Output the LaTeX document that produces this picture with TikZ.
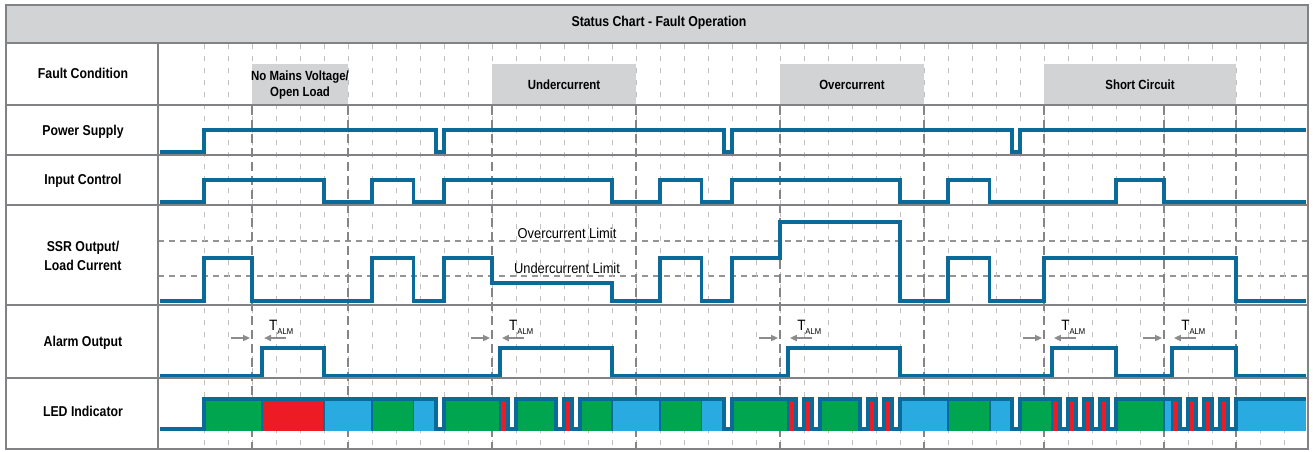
\documentclass[tikz,border=0pt]{standalone}
\usepackage{fontspec}
\setmainfont{Liberation Sans}[FakeStretch=0.86]
\newfontfamily\limfont{Liberation Sans}[FakeStretch=0.9]
\usetikzlibrary{arrows.meta}

\definecolor{sigblue}{HTML}{0A6A99}
\definecolor{ledgreen}{HTML}{00A550}
\definecolor{ledred}{HTML}{ED1C24}
\definecolor{ledblue}{HTML}{29ABE2}
\definecolor{boxgray}{HTML}{D1D3D4}
\definecolor{rulegray}{HTML}{808285}

\begin{document}
\begin{tikzpicture}[x=1pt, y=-1pt,
    sig/.style={line width=3.3pt, draw=sigblue},
    rowlabel/.style={font=\bfseries\fontsize{14.3}{19}\selectfont, align=center},
    faultlabel/.style={font=\bfseries\fontsize{13.3}{16}\selectfont, align=center},
    limitlabel/.style={font=\limfont\fontsize{14.3}{16}\selectfont},
    talmlabel/.style={font=\limfont\fontsize{15}{15}\selectfont, inner sep=0pt, anchor=base west},
    gridline/.style={draw=black!25, line width=1pt, dash pattern=on 5pt off 7pt},
    markline/.style={draw=black!48, line width=1.6pt, dash pattern=on 9pt off 5pt},
    limitline/.style={draw=black!42, line width=1.4pt, dash pattern=on 6pt off 5pt},
    talm/.style={draw=black!45, line width=2pt, -{Triangle[length=7pt, width=6pt]}},
    rule/.style={draw=rulegray, line width=1.5pt}]

\useasboundingbox (0,0) rectangle (1313,451);

% Title bar
\fill[boxgray] (6,5) rectangle (1308,43);
\node[rowlabel] (title) at (659,23) {Status Chart - Fault Operation};

% Limits of the load current
\draw[limitline] (158,241) -- (1308,241);
\draw[limitline] (158,276) -- (1308,276);

% Time axis: one step = 24px
\begin{scope}[xshift=204pt, x=24pt]
  \foreach \k in {0,...,45}
    \draw[gridline] (\k,44) -- (\k,449);

  % Fault windows
  \fill[boxgray] (2,64) rectangle (6,105);
  \fill[boxgray] (12,64) rectangle (18,105);
  \fill[boxgray] (24,64) rectangle (30,105);
  \fill[boxgray] (35,64) rectangle (43,105);
  \node[faultlabel] (nomains) at (4,85) {No Mains Voltage/\\Open Load};
  \node[faultlabel] (under) at (15,85) {Undercurrent};
  \node[faultlabel] (over) at (27,85) {Overcurrent};
  \node[faultlabel] (short) at (39,85) {Short Circuit};

  \foreach \k in {2,6,12,18,24,30,35,40,43}
    \draw[markline] (\k,106) -- (\k,449);

  % LED colours
  \foreach \a/\b/\c in {0/2.42/ledgreen, 2.42/5/ledred, 5/7/ledblue, 7/8.72/ledgreen,
      8.72/9.67/ledblue, 10/12.33/ledgreen, 12.33/12.67/ledred, 13/14.67/ledgreen,
      15/15.33/ledred, 15.67/17/ledgreen, 17/19/ledblue, 19/20.72/ledgreen,
      20.72/21.67/ledblue, 22/24.33/ledgreen, 24.33/24.67/ledred, 25/25.33/ledred,
      25.67/27.33/ledgreen, 27.67/28/ledred, 28.33/28.67/ledred, 29/31/ledblue,
      31/32.74/ledgreen, 32.74/33.67/ledblue, 34/35.33/ledgreen,
      35.33/35.67/ledred, 36/36.33/ledred, 36.67/37/ledred, 37.33/37.67/ledred,
      38/40/ledgreen, 40/40.33/ledblue,
      40.33/40.67/ledred, 41/41.33/ledred, 41.67/42/ledred, 42.33/42.67/ledred,
      43/45.92/ledblue}
    \fill[\c] (\a,399) rectangle (\b,430.5);
  \foreach \k in {2.42,5,7,8.72,12.33,17,19,20.72,24.33,31,32.74,35.33,40,40.33}
    \draw[sigblue, line width=1.5pt] (\k,399) -- (\k,430.5);

  % Power supply
  \draw[sig] (-1.83,152) -| (0,130) -| (9.67,152) -| (10,130) -| (21.67,152) -| (22,130)
    -| (33.67,152) -| (34,130) -- (45.92,130);
  % Input control
  \draw[sig] (-1.83,202) -| (0,180) -| (5,202) -| (7,180) -| (8.72,202) -| (10,180)
    -| (17,202) -| (19,180) -| (20.72,202) -| (22,180) -| (29,202) -| (31,180)
    -| (32.74,202) -| (38,180) -| (40,202) -- (45.92,202);
  % SSR output / load current
  \draw[sig] (-1.83,301) -| (0,258) -| (2,301) -| (7,258) -| (8.72,301) -| (10,258)
    -| (12,283) -| (17,301) -| (19,258) -| (20.72,301) -| (22,258) -| (24,222)
    -| (29,301) -| (31,258) -| (32.74,301) -| (35,258) -| (43,301) -- (45.92,301);
  % Alarm output
  \draw[sig] (-1.83,376) -| (2.42,348) -| (5,376) -| (12.33,348) -| (17,376)
    -| (24.33,348) -| (29,376) -| (35.33,348) -| (38,376) -| (40.33,348)
    -| (43,376) -- (45.92,376);
  % LED indicator
  \draw[sig] (-1.83,429) -| (0,399) -| (9.67,429) -| (10,399) -| (12.67,429) -| (13,399)
    -| (14.67,429) -| (15,399) -| (15.33,429) -| (15.67,399) -| (21.67,429) -| (22,399)
    -| (24.67,429) -| (25,399) -| (25.33,429) -| (25.67,399) -| (27.33,429) -| (27.67,399)
    -| (28,429) -| (28.33,399) -| (28.67,429) -| (29,399) -| (33.67,429) -| (34,399)
    -| (35.67,429) -| (36,399) -| (36.33,429) -| (36.67,399) -| (37,429) -| (37.33,399)
    -| (37.67,429) -| (38,399) -| (40.67,429) -| (41,399) -| (41.33,429) -| (41.67,399)
    -| (42,429) -| (42.33,399) -| (42.67,429) -| (43,399) -- (45.92,399);

  % Alarm delay
  \foreach \l/\p in {2/2.42, 12/12.33, 24/24.33, 35/35.33, 40/40.33} {
    \draw[talm] (\l-0.875,338) -- (\l-0.08,338);
    \draw[talm] (\p+1,338) -- (\p+0.08,338);
    \node[talmlabel] (talm\l) at (\l+0.71,330)
      {T\raisebox{-4pt}{\fontsize{8.5}{8.5}\selectfont ALM}};
  }
\end{scope}

\node[limitlabel] (overlim) at (567,233) {Overcurrent Limit};
\node[limitlabel] (underlim) at (567,268) {Undercurrent Limit};

% Table
\draw[rule] (6,5) rectangle (1308,449);
\foreach \y in {43,105,155,205,305,378}
  \draw[rule] (6,\y) -- (1308,\y);
\draw[rule] (158,43) -- (158,449);

% Row names
\node[rowlabel] (fault) at (83,73) {Fault Condition};
\node[rowlabel] (power) at (83,132) {Power Supply};
\node[rowlabel] (input) at (83,181) {Input Control};
\node[rowlabel] (ssr) at (83,256) {SSR Output/\\Load Current};
\node[rowlabel] (alarm) at (83,343) {Alarm Output};
\node[rowlabel] (led) at (83,411) {LED Indicator};

\end{tikzpicture}
\end{document}
